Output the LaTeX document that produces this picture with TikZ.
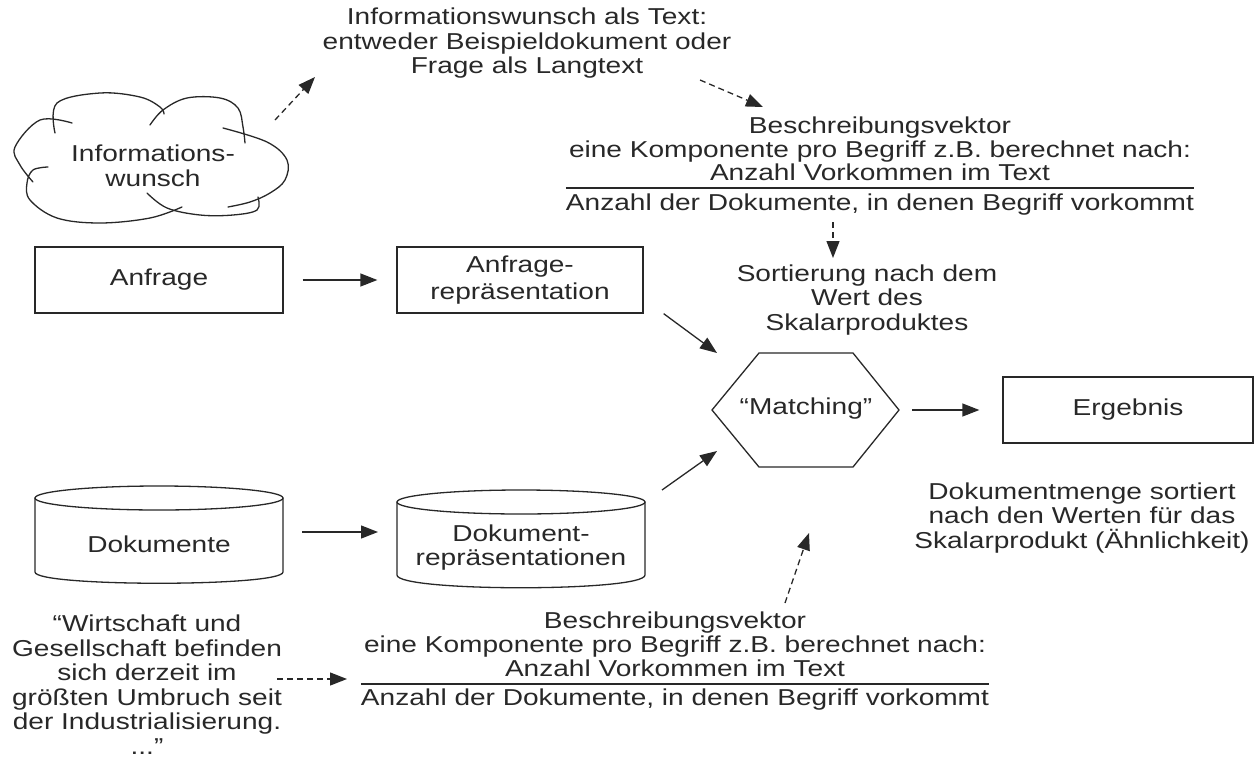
\documentclass[tikz,border=0pt]{standalone}
\usepackage{fontspec}
\setmainfont{Liberation Sans}[FakeStretch=1.22]
\usetikzlibrary{arrows.meta,calc}
\definecolor{ink}{RGB}{40,40,40}
\begin{document}
\begin{tikzpicture}[x=1pt,y=-1pt,
  txt/.style={font=\fontsize{23}{24.5}\selectfont, text=ink, inner sep=0pt, align=center},
  box/.style={txt, draw=ink, line width=1.3pt, minimum height=66pt},
  outline/.style={draw=ink, line width=1.3pt, line cap=round},
  arr/.style={draw=ink, line width=1.3pt, -{Triangle[length=17pt,width=13pt]}},
  darr/.style={arr, dash pattern=on 6pt off 4pt}
]
\useasboundingbox (0,0) rectangle (1254,758);

% ---------- cloud ----------
\draw[outline] plot[smooth, tension=0.6] coordinates {(55,133) (57,103) (100,93) (140,97) (160,107) (164,114)};
\draw[outline] plot[smooth, tension=0.6] coordinates {(150,125) (163,110) (187,98) (220,98) (238,108) (243,127) (245,143)};
\draw[outline] plot[smooth, tension=0.6] coordinates {(223,128) (267,142) (287,160) (285,180) (270,193) (250,202) (228,207)};
\draw[outline] plot[smooth, tension=0.6] coordinates {(147,193) (167,208) (200,215) (233,215) (257,210) (258,197)};
\draw[outline] plot[smooth, tension=0.6] coordinates {(182,207) (150,218) (100,223) (57,218) (30,200) (27,183) (33,170) (48,167)};
\draw[outline] plot[smooth, tension=0.6] coordinates {(72,123) (40,120) (15,147) (20,165) (33,182)};
\node[txt] (wish) at (153,166) {Informations-\\wunsch};

% ---------- top text ----------
\node[txt] (toptext) at (527,43.5) {Informationswunsch als Text:\\entweder Beispieldokument oder\\Frage als Langtext};

% ---------- upper description vector ----------
\node[txt, anchor=base] (tvtitle) at (880,133) {Beschreibungsvektor};
\node[txt, anchor=base] (tvdesc) at (880,157) {eine Komponente pro Begriff z.B. berechnet nach:};
\node[txt, anchor=base] (tvnum) at (880,180) {Anzahl Vorkommen im Text};
\node[txt, anchor=base] (tvden) at (880,210) {Anzahl der Dokumente, in denen Begriff vorkommt};
\draw[outline, line cap=butt] ([yshift=22pt]tvden.base west) -- ([yshift=22pt]tvden.base east);

% ---------- sorting text ----------
\node[txt] (sort) at (867,300) {Sortierung nach dem\\Wert des\\Skalarproduktes};

% ---------- query boxes ----------
\node[box, minimum width=248pt] (anfrage) at (159,280) {Anfrage};
\node[box, minimum width=246pt, font=\fontsize{23}{27}\selectfont] (anfragerep) at (520,280) {Anfrage-\\repräsentation};

% ---------- matching hexagon ----------
\coordinate (hexL) at (712,410);
\coordinate (hexR) at (899,410);
\draw[outline, line join=miter] (hexL) -- (759,353) -- (853,353) -- (hexR) -- (853,467) -- (759,467) -- cycle;
\node[txt] (matching) at (806,409) {“Matching”};

% ---------- result ----------
\node[box, minimum width=250pt] (ergebnis) at (1128,410) {Ergebnis};
\node[txt] (menge) at (1082,518) {Dokumentmenge sortiert\\nach den Werten für das\\Skalarprodukt (Ähnlichkeit)};

% ---------- cylinders ----------
\draw[outline] (159,498) ellipse [x radius=124, y radius=12];
\draw[outline] (35,498) -- (35,572) .. controls (35,587) and (283,587) .. (283,572) -- (283,498);
\node[txt] (doks) at (159,544) {Dokumente};
\draw[outline] (521,502) ellipse [x radius=124, y radius=12];
\draw[outline] (397,502) -- (397,575) .. controls (397,592) and (645,592) .. (645,575) -- (645,502);
\node[txt] (dokrep) at (521,547.5) {Dokument-\\repräsentationen};

% ---------- quote ----------
\node[txt] (quote) at (147,684.6) {“Wirtschaft und\\Gesellschaft befinden\\sich derzeit im\\größten Umbruch seit\\der Industrialisierung.\\...”};

% ---------- lower description vector ----------
\node[txt, anchor=base] (bvtitle) at (675,628) {Beschreibungsvektor};
\node[txt, anchor=base] (bvdesc) at (675,652) {eine Komponente pro Begriff z.B. berechnet nach:};
\node[txt, anchor=base] (bvnum) at (675,676) {Anzahl Vorkommen im Text};
\node[txt, anchor=base] (bvden) at (675,705) {Anzahl der Dokumente, in denen Begriff vorkommt};
\draw[outline, line cap=butt] ([yshift=21pt]bvden.base west) -- ([yshift=21pt]bvden.base east);

% ---------- connector end points ----------
\coordinate (cloudNE) at (275,120);
\coordinate (topSW) at (315,77);
\coordinate (topSE) at (700,80);
\coordinate (tvNW) at (763,107);
\coordinate (tvBelow) at (833,222);
\coordinate (sortTop) at (833,258);
\coordinate (mTL) at (717,353);
\coordinate (drStart) at (662,490);
\coordinate (mBL) at (717,451);
\coordinate (doksE) at (283,532);
\coordinate (dokrepW) at (397,532);
\coordinate (bvUp) at (785,603);
\coordinate (mBelow) at (809,533);
\coordinate (quoteE) at (277,679);
\coordinate (bvW) at (347,679);

% ---------- solid arrows ----------
\draw[arr] ([xshift=19pt]anfrage.east) -- ([xshift=-19pt]anfragerep.west);
\draw[arr] ([xshift=20pt]anfragerep.south east) -- (mTL);
\draw[arr] (drStart) -- (mBL);
\draw[arr] ([xshift=13pt]hexR) -- ([xshift=-23pt]ergebnis.west);
\draw[arr] ([xshift=19pt]doksE) -- ([xshift=-19pt]dokrepW);

% ---------- dashed arrows ----------
\draw[darr] (cloudNE) -- (topSW);
\draw[darr] (topSE) -- (tvNW);
\draw[darr] (tvBelow) -- (sortTop);
\draw[darr] (bvUp) -- (mBelow);
\draw[darr] (quoteE) -- (bvW);
\end{tikzpicture}
\end{document}
